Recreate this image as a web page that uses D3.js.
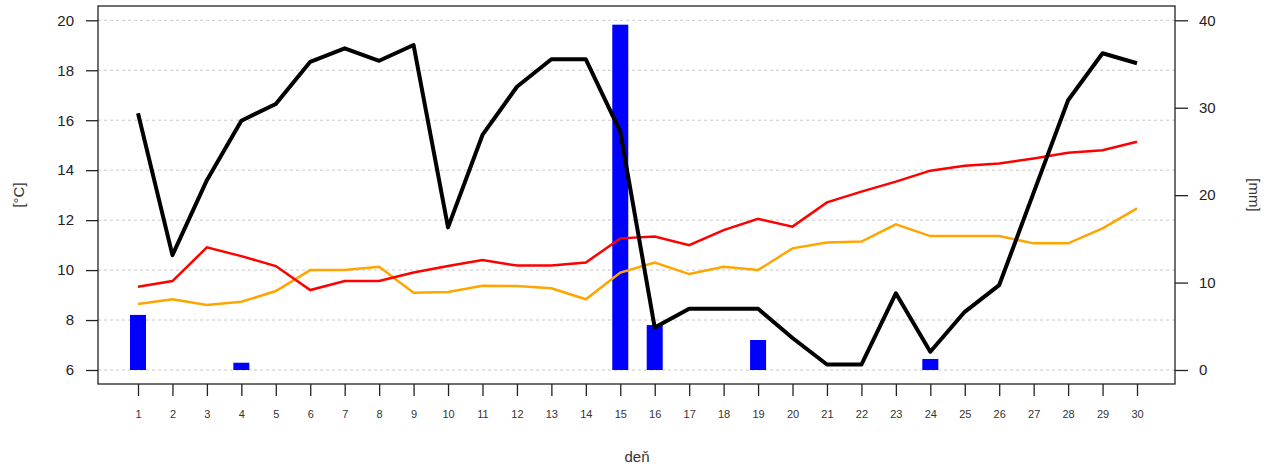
<!DOCTYPE html>
<html><head><meta charset="utf-8">
<script src="https://cdn.jsdelivr.net/npm/d3@7"></script>
<style>body{margin:0;background:#fff}text{font-family:"Liberation Sans",Arial,sans-serif}</style>
</head><body><svg id="c" width="1273" height="469"></svg>
<script>
const days = d3.range(1, 31);
const blackSeries = [16.28,10.6,13.6,15.98,16.65,18.34,18.88,18.38,19.01,11.71,15.41,17.34,18.44,18.44,15.54,7.7,8.45,8.45,8.45,7.28,6.22,6.22,9.07,6.73,8.33,9.4,13.1,16.8,18.68,18.28];
const redSeries = [9.33,9.56,10.91,10.56,10.16,9.2,9.56,9.56,9.9,10.16,10.4,10.18,10.18,10.3,11.27,11.34,11.0,11.6,12.05,11.74,12.71,13.14,13.54,13.98,14.18,14.27,14.47,14.7,14.8,15.14];
const orangeSeries = [8.64,8.83,8.6,8.73,9.16,10.0,10.0,10.13,9.09,9.12,9.37,9.36,9.27,8.83,9.9,10.3,9.84,10.13,10.0,10.87,11.1,11.14,11.83,11.36,11.36,11.36,11.07,11.07,11.67,12.47];
const rainDays = [1,4,15,16,19,24];
const rainValues = [6.3,0.83,39.5,5.14,3.43,1.26];
const tempTicks = [6,8,10,12,14,16,18,20];
const rainTicks = [0,10,20,30,40];

const svg = d3.select("#c");
const L=98, R=1175, T=6, B=384;
const x = d3.scaleLinear().domain([1,30]).range([138,1137]);
const yT = d3.scaleLinear().domain([6,20]).range([370,20.3]);
const yR = d3.scaleLinear().domain([0,40]).range([370,20.3]);

// grid
svg.append("g").selectAll("line").data(tempTicks).join("line")
  .attr("x1",L).attr("x2",R).attr("y1",d=>yT(d)).attr("y2",d=>yT(d))
  .attr("stroke","#c8c8c8").attr("stroke-width",1).attr("stroke-dasharray","3,3");

// bars
svg.append("g").selectAll("rect").data(rainDays).join("rect")
  .attr("x",(d)=>x(d)-8).attr("width",16)
  .attr("y",(d,i)=>yR(rainValues[i])).attr("height",(d,i)=>yR(0)-yR(rainValues[i]))
  .attr("fill","#0000ff");

const line = d3.line().x((d,i)=>x(days[i])).y(d=>yT(d));
svg.append("path").datum(orangeSeries).attr("d",line).attr("fill","none").attr("stroke","#ffa500").attr("stroke-width",2.5);
svg.append("path").datum(redSeries).attr("d",line).attr("fill","none").attr("stroke","#ff0000").attr("stroke-width",2.5);
svg.append("path").datum(blackSeries).attr("d",line).attr("fill","none").attr("stroke","#000").attr("stroke-width",4).attr("stroke-linejoin","round");

// box
svg.append("rect").attr("x",L).attr("y",T).attr("width",R-L).attr("height",B-T)
  .attr("fill","none").attr("stroke","#222").attr("stroke-width",1.3);

// axes
const ax = svg.append("g").attr("transform",`translate(0,${B})`)
  .call(d3.axisBottom(x).tickValues(days).tickFormat(d3.format("d")).tickSize(12).tickPadding(14));
ax.select(".domain").remove();
ax.selectAll("line").attr("stroke","#222").attr("stroke-width",1.3);
ax.selectAll("text").attr("font-size",11).attr("fill","#333").attr("font-family","Liberation Sans,Arial");

const al = svg.append("g").attr("transform",`translate(${L},0)`)
  .call(d3.axisLeft(yT).tickValues(tempTicks).tickSize(12).tickPadding(12));
al.select(".domain").remove();
al.selectAll("line").attr("stroke","#222").attr("stroke-width",1.3);
al.selectAll("text").attr("font-size",15).attr("fill","#222").attr("font-family","Liberation Sans,Arial");

const ar = svg.append("g").attr("transform",`translate(${R},0)`)
  .call(d3.axisRight(yR).tickValues(rainTicks).tickSize(13).tickPadding(11));
ar.select(".domain").remove();
ar.selectAll("line").attr("stroke","#222").attr("stroke-width",1.3);
ar.selectAll("text").attr("font-size",15).attr("fill","#222").attr("font-family","Liberation Sans,Arial");

svg.append("text").attr("transform","translate(24,195) rotate(-90)").attr("text-anchor","middle")
  .attr("font-size",15).attr("fill","#333").text("[°C]");
svg.append("text").attr("transform","translate(1249,195) rotate(90)").attr("text-anchor","middle")
  .attr("font-size",15).attr("fill","#333").text("[mm]");
svg.append("text").attr("x",637).attr("y",462).attr("text-anchor","middle")
  .attr("font-size",15).attr("fill","#333").text("deň");
</script></body></html>
